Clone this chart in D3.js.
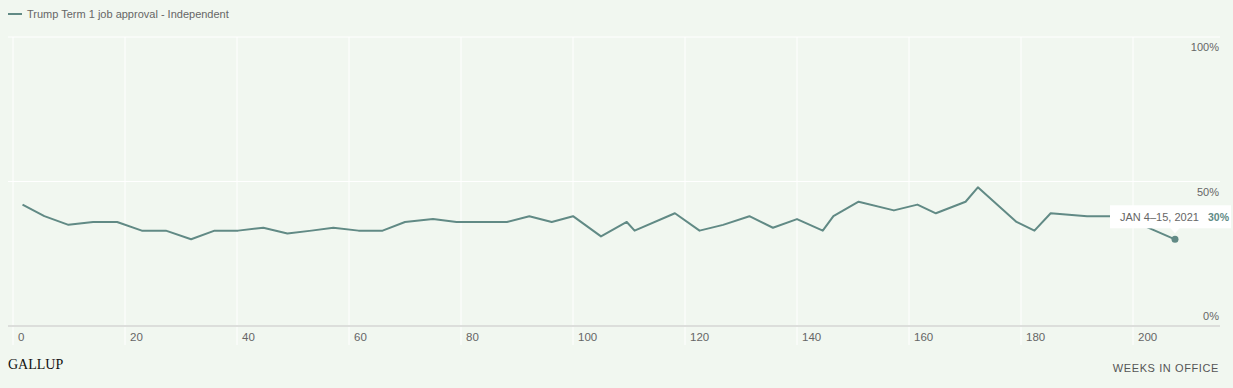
<!DOCTYPE html>
<html>
<head>
<meta charset="utf-8">
<script src="https://cdn.jsdelivr.net/npm/d3@7"></script>
<style>
  body { margin: 0; background: #f1f7f0; }
  svg { display: block; font-family: "Liberation Sans", Arial, sans-serif; }
</style>
</head>
<body>
<div id="chart"></div>
<script>
// data
var seriesName = "Trump Term 1 job approval - Independent";
var weeks = [1.7, 5.6, 9.9, 14.3, 18.6, 23, 27.3, 31.8, 36, 40.2,
             44.7, 49, 53.3, 57.2, 61.7, 66, 70, 75, 79.2, 83.7,
             88.2, 92.2, 96.2, 100, 105, 109.6, 111, 118.2, 122.6, 126.8,
             131.5, 135.7, 140, 144.6, 146.5, 151, 157.3, 161.5, 164.8, 170.1,
             172.3, 179.2, 182.4, 185.3, 191.8, 198, 207.5];
var approval = [42, 38, 35, 36, 36, 33, 33, 30, 33, 33,
                34, 32, 33, 34, 33, 33, 36, 37, 36, 36,
                36, 38, 36, 38, 31, 36, 33, 39, 33, 35,
                38, 34, 37, 33, 38, 43, 40, 42, 39, 43,
                48, 36, 33, 39, 38, 38, 30];
var xTicks = [0, 20, 40, 60, 80, 100, 120, 140, 160, 180, 200];
var yTicks = [0, 50, 100];
var lastLabel = "JAN 4\u201315, 2021";

var w = 1233, h = 388;
var lineColor = "#618a85";

var data = weeks.map(function(d, i) { return { week: d, value: approval[i] }; });

var xScale = d3.scaleLinear().domain([0, 200]).range([13, 1133]);
var yScale = d3.scaleLinear().domain([0, 100]).range([326, 37]);

var svg = d3.select("#chart").append("svg")
  .attr("width", w)
  .attr("height", h);

svg.append("rect").attr("width", w).attr("height", h).attr("fill", "#f1f7f0");

// legend
svg.append("line")
  .attr("x1", 8).attr("x2", 22).attr("y1", 14).attr("y2", 14)
  .attr("stroke", lineColor).attr("stroke-width", 2);
svg.append("text")
  .attr("x", 27).attr("y", 18)
  .attr("font-size", 11).attr("fill", "#666")
  .text(seriesName);

// vertical grid
svg.append("g").selectAll("line")
  .data(xTicks).enter()
  .append("line")
  .attr("x1", function(d) { return xScale(d); })
  .attr("x2", function(d) { return xScale(d); })
  .attr("y1", yScale(100))
  .attr("y2", 345)
  .attr("stroke", "#ffffff").attr("stroke-width", 1);

// horizontal grid
svg.append("g").selectAll("line")
  .data(yTicks).enter()
  .append("line")
  .attr("x1", 8).attr("x2", 1220)
  .attr("y1", function(d) { return yScale(d); })
  .attr("y2", function(d) { return yScale(d); })
  .attr("stroke", function(d) { return d === 0 ? "#dcdedb" : "#ffffff"; })
  .attr("stroke-width", function(d) { return d === 0 ? 2 : 1; });

// y labels
svg.append("g").selectAll("text")
  .data(yTicks).enter()
  .append("text")
  .attr("x", 1219)
  .attr("y", function(d) { return d === 0 ? yScale(d) - 6 : yScale(d) + 14; })
  .attr("text-anchor", "end")
  .attr("font-size", 11).attr("fill", "#666")
  .text(function(d) { return d + "%"; });

// x labels
svg.append("g").selectAll("text")
  .data(xTicks).enter()
  .append("text")
  .attr("x", function(d) { return xScale(d) + 5; })
  .attr("y", 341)
  .attr("font-size", 11.5).attr("fill", "#666")
  .text(function(d) { return d; });

// line
var line = d3.line()
  .x(function(d) { return xScale(d.week); })
  .y(function(d) { return yScale(d.value); });

svg.append("path")
  .datum(data)
  .attr("d", line)
  .attr("fill", "none")
  .attr("stroke", lineColor)
  .attr("stroke-width", 2)
  .attr("stroke-linejoin", "round");

// last point + label
var last = data[data.length - 1];
var lx = xScale(last.week), ly = yScale(last.value);

svg.append("circle")
  .attr("cx", lx).attr("cy", ly).attr("r", 3.5)
  .attr("fill", lineColor);

var tip = svg.append("g");
tip.append("rect")
  .attr("x", 1110).attr("y", ly - 34)
  .attr("width", 121).attr("height", 23)
  .attr("fill", "#ffffff");
tip.append("path")
  .attr("d", "M" + (lx - 5) + "," + (ly - 11.5) + "L" + lx + "," + (ly - 6) + "L" + (lx + 5) + "," + (ly - 11.5) + "Z")
  .attr("fill", "#ffffff");
tip.append("text")
  .attr("x", 1120).attr("y", ly - 18.5)
  .attr("font-size", 11).attr("fill", "#666")
  .text(lastLabel);
tip.append("text")
  .attr("x", 1229).attr("y", ly - 18.5)
  .attr("text-anchor", "end")
  .attr("font-size", 10.5).attr("font-weight", "bold").attr("fill", lineColor)
  .text(last.value + "%");

// footer
svg.append("text")
  .attr("x", 8).attr("y", 369)
  .attr("font-family", "'Liberation Serif', 'DejaVu Serif', serif")
  .attr("font-size", 14).attr("fill", "#111")
  .text("GALLUP");
svg.append("text")
  .attr("x", 1219).attr("y", 372)
  .attr("text-anchor", "end")
  .attr("font-size", 11).attr("fill", "#555")
  .attr("letter-spacing", 0.6)
  .text("WEEKS IN OFFICE");
</script>
</body>
</html>
